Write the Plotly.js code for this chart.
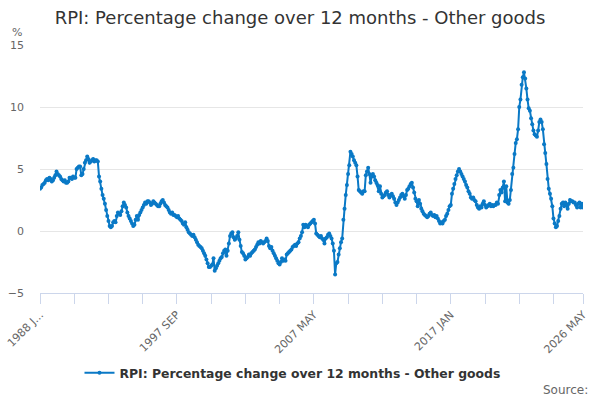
<!DOCTYPE html>
<html>
<head>
<meta charset="utf-8">
<script src="https://cdn.plot.ly/plotly-3.0.1.min.js"></script>
<style>
  html, body { margin: 0; padding: 0; background: #fff; }
  #chart { width: 600px; height: 400px; }
</style>
</head>
<body>
<div id="chart"></div>
<script>
// monthly values (1988 JAN .. 2026 MAY)
const monthNames = ["JAN", "FEB", "MAR", "APR", "MAY", "JUN", "JUL", "AUG", "SEP", "OCT", "NOV", "DEC"];
const firstYear = 1988;

const otherGoods = [
  // 1988
  3.4, 3.5, 3.7, 3.8, 3.9, 4.1, 4.2, 4.1, 4.3, 4.2, 4.0, 4.1,
  // 1989
  4.3, 4.5, 4.8, 4.6, 4.5, 4.4, 4.2, 4.1, 4.0, 4.1, 3.9, 3.9,
  // 1990
  4.0, 4.3, 4.3, 4.2, 4.4, 4.3, 4.3, 5.0, 5.1, 5.2, 5.2, 4.5,
  // 1991
  4.6, 5.0, 5.5, 5.7, 6.0, 5.8, 5.5, 5.6, 5.7, 5.8, 5.6, 5.7,
  // 1992
  5.7, 5.6, 4.4, 4.0, 3.4, 2.9, 2.6, 2.2, 1.7, 1.2, 0.8, 0.4,
  // 1993
  0.3, 0.4, 0.7, 0.8, 0.7, 1.2, 1.5, 1.4, 1.3, 1.6, 2.0, 2.3,
  // 1994
  2.1, 1.9, 1.5, 1.2, 1.0, 0.8, 0.6, 0.4, 0.5, 0.9, 1.2, 0.9,
  // 1995
  1.3, 1.5, 1.7, 1.9, 2.1, 2.3, 2.2, 2.4, 2.4, 2.3, 2.1, 2.2,
  // 1996
  2.4, 2.3, 2.2, 2.1, 2.0, 2.0, 2.2, 2.4, 2.5, 2.3, 2.1, 2.0,
  // 1997
  1.9, 1.7, 1.5, 1.4, 1.5, 1.3, 1.3, 1.2, 1.1, 1.2, 1.0, 0.9,
  // 1998
  0.8, 0.6, 0.5, 0.7, 0.3, 0.1, -0.1, -0.2, -0.3, -0.4, -0.3, -0.5,
  // 1999
  -0.7, -0.9, -1.1, -1.2, -1.3, -1.4, -1.6, -1.8, -2.0, -2.3, -2.6, -2.9,
  // 2000
  -2.9, -2.8, -2.7, -2.2, -3.2, -3.0, -2.8, -2.6, -2.4, -2.2, -2.1, -1.8,
  // 2001
  -1.6, -1.5, -2.0, -1.6, -1.0, -0.4, -0.2, -0.1, -0.5, -0.7, -0.6, -0.4,
  // 2002
  -0.1, -0.7, -1.2, -1.7, -1.8, -2.0, -2.3, -2.2, -2.1, -1.9, -2.0, -1.8,
  // 2003
  -1.7, -1.6, -1.5, -1.3, -1.1, -0.9, -1.0, -0.8, -0.9, -1.0, -0.9, -0.8,
  // 2004
  -0.6, -0.8, -1.2, -1.4, -1.3, -1.6, -1.8, -2.0, -2.2, -2.4, -2.6, -2.7,
  // 2005
  -2.5, -2.2, -2.4, -2.3, -2.4, -1.9, -1.8, -1.7, -1.6, -1.5, -1.3, -1.2,
  // 2006
  -1.1, -1.2, -1.0, -0.9, -0.6, -0.4, -0.1, 0.5, 0.3, 0.5, 0.4, 0.3,
  // 2007
  0.5, 0.6, 0.7, 0.8, 0.9, 0.6, -0.2, -0.3, -0.4, -0.5, -0.4, -0.6,
  // 2008
  -0.7, -1.0, -0.6, -0.5, -0.3, -0.2, -0.4, -0.6, -1.0, -1.6, -3.5, -2.6,
  // 2009
  -2.5, -1.9, -1.4, -0.9, -0.6, 0.9, 1.8, 2.9, 3.7, 4.6, 5.3, 6.4,
  // 2010
  6.2, 6.0, 5.7, 5.5, 5.3, 4.4, 3.3, 3.2, 3.1, 3.0, 3.2, 3.2,
  // 2011
  4.5, 4.8, 5.1, 4.6, 3.9, 4.4, 4.6, 4.4, 4.1, 3.9, 3.7, 3.2,
  // 2012
  3.6, 3.0, 2.7, 2.8, 2.9, 3.1, 3.2, 2.9, 2.7, 2.9, 3.0, 2.8,
  // 2013
  2.6, 2.3, 2.1, 2.3, 2.5, 2.7, 2.9, 3.0, 2.8, 2.6, 2.9, 3.3,
  // 2014
  3.4, 3.6, 3.8, 3.9, 3.5, 3.1, 2.6, 2.4, 2.0, 2.5, 2.2, 1.8,
  // 2015
  1.6, 1.4, 1.3, 1.2, 1.1, 1.2, 1.4, 1.5, 1.3, 1.2, 1.3, 1.1,
  // 2016
  1.2, 1.0, 0.8, 0.6, 0.7, 0.6, 0.8, 0.9, 1.2, 1.4, 1.7, 2.0,
  // 2017
  2.1, 3.0, 3.4, 3.8, 4.2, 4.5, 4.8, 5.0, 4.8, 4.6, 4.4, 4.2,
  // 2018
  4.0, 3.7, 3.5, 3.2, 3.0, 2.7, 2.6, 2.7, 2.5, 2.4, 2.1, 1.9,
  // 2019
  1.8, 2.0, 1.9, 2.2, 2.4, 2.1, 1.9, 2.0, 2.1, 2.2, 2.0, 2.1,
  // 2020
  2.0, 2.1, 2.1, 2.3, 2.2, 2.9, 3.3, 3.1, 3.5, 4.0, 2.4, 3.6,
  // 2021
  2.3, 2.2, 2.5, 3.3, 4.6, 5.1, 6.2, 7.1, 7.4, 8.2, 10.0, 10.6,
  // 2022
  11.8, 12.4, 12.8, 12.3, 11.5, 10.6, 9.9, 9.7, 9.1, 8.6, 8.1, 7.8,
  // 2023
  7.7, 7.6, 8.1, 8.8, 9.0, 8.8, 8.2, 7.0, 6.3, 5.4, 4.2, 3.4,
  // 2024
  3.0, 2.6, 2.0, 1.0, 0.6, 0.3, 0.4, 0.8, 1.2, 1.8, 2.2, 2.3,
  // 2025
  2.0, 2.3, 2.1, 1.8, 2.2, 2.5, 2.4, 2.4, 2.3, 2.3, 2.1, 1.9,
  // 2026
  2.2, 2.3, 1.9, 2.2, 1.9
];

const months = otherGoods.map((v, i) =>
  (firstYear + Math.floor(i / 12)) + " " + monthNames[i % 12]);

// axis ticks every 29 months, labels on every fourth one plus the last month
const tickStep = 29;
const labelledTicks = ["1988 JAN", "1997 SEP", "2007 MAY", "2017 JAN", "2026 MAY"];
const tickLabels = ["1988 J...", "1997 SEP", "2007 MAY", "2017 JAN", "2026 MAY"];

const tickVals = [];
const tickText = [];
for (let i = 0; i < months.length; i += tickStep) {
  tickVals.push(months[i]);
  let k = labelledTicks.indexOf(months[i]);
  tickText.push(k >= 0 ? tickLabels[k] : "");
}
tickVals.push(months[months.length - 1]);
tickText.push(tickLabels[tickLabels.length - 1]);

const blue = "#0a79c6";

const trace = {
  "type": "scatter",
  "mode": "lines+markers",
  "name": "RPI: Percentage change over 12 months - Other goods",
  "x": months,
  "y": otherGoods,
  "line": {"color": blue, "width": 2},
  "marker": {"color": blue, "size": 4}
};

const layout = {
  "width": 600,
  "height": 400,
  "margin": {"l": 40, "r": 17, "t": 45, "b": 107},
  "paper_bgcolor": "#ffffff",
  "plot_bgcolor": "#ffffff",
  "font": {"family": "DejaVu Sans", "color": "#666666", "size": 11},
  "title": {
    "text": "RPI: Percentage change over 12 months - Other goods",
    "font": {"family": "DejaVu Sans", "size": 18, "color": "#333333"},
    "x": 0.5, "xanchor": "center",
    "y": 0.955, "yanchor": "middle", "yref": "container"
  },
  "xaxis": {
    "type": "category",
    "range": [0, months.length - 1],
    "tickmode": "array",
    "tickvals": tickVals,
    "ticktext": tickText,
    "tickangle": -45,
    "ticks": "outside",
    "ticklen": 10,
    "tickcolor": "#ccd6eb",
    "showline": true,
    "linecolor": "#ccd6eb",
    "linewidth": 1,
    "showgrid": false,
    "tickfont": {"size": 11, "color": "#666666"}
  },
  "yaxis": {
    "range": [-5, 15],
    "dtick": 5,
    "tick0": 0,
    "showgrid": true,
    "gridcolor": "#e6e6e6",
    "zeroline": false,
    "showline": false,
    "ticks": "",
    "ticklabelstandoff": 15,
    "tickfont": {"size": 11, "color": "#666666"}
  },
  "showlegend": true,
  "legend": {
    "orientation": "h",
    "x": 0.465, "xanchor": "center",
    "y": -0.323, "yanchor": "middle",
    "itemwidth": 30,
    "font": {"size": 12.4, "color": "#333333", "weight": "bold"}
  },
  "annotations": [
    {
      "text": "%", "xref": "paper", "yref": "paper",
      "x": -0.055, "xanchor": "left", "y": 1.052, "yanchor": "middle",
      "showarrow": false, "font": {"size": 11, "color": "#666666"}
    },
    {
      "text": "Source:", "xref": "paper", "yref": "paper",
      "x": 1.013, "xanchor": "right", "y": -0.391, "yanchor": "middle",
      "showarrow": false, "font": {"size": 12, "color": "#666666"}
    }
  ]
};

Plotly.newPlot("chart", [trace], layout, {"displayModeBar": false, "staticPlot": true});
</script>
</body>
</html>
